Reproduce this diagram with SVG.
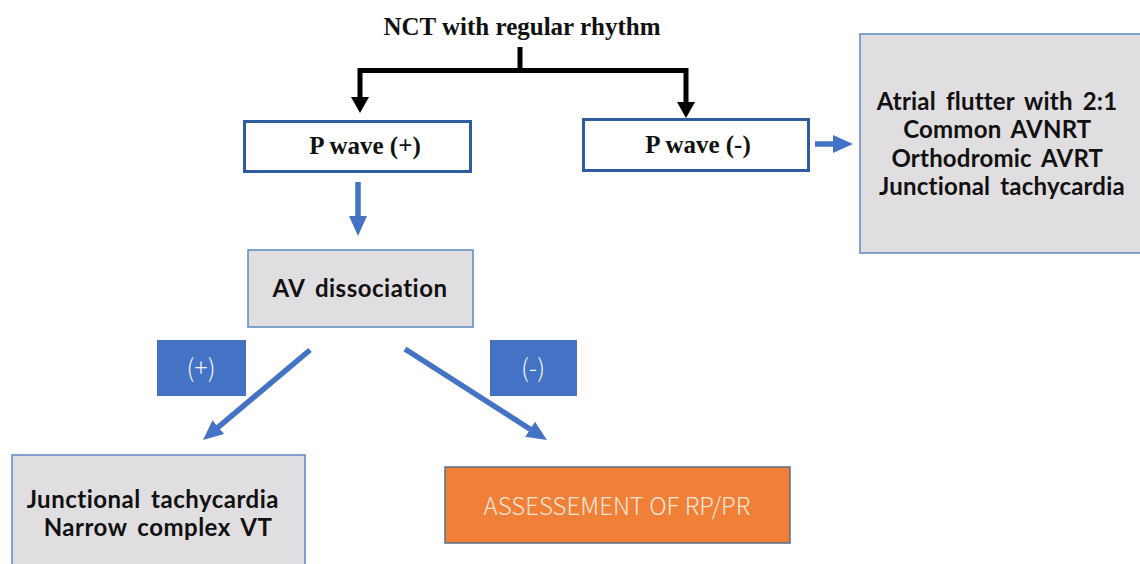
<svg xmlns="http://www.w3.org/2000/svg" width="1140" height="564" viewBox="0 0 1140 564">
  <style>
    .serif { font-family: "Liberation Serif", "Times New Roman", serif; font-weight: bold; fill: #111; }
    .sansb { font-family: Lato, "Noto Sans", sans-serif; font-weight: bold; fill: #111; font-size: 24px; letter-spacing: 0.5px; word-spacing: 4px; }
    .pbox { fill: #fff; stroke: #2F5C9F; stroke-width: 3; }
    .gbox { fill: #E0DEE0; stroke: #5B88C0; stroke-width: 1.5; }
    .lbox { fill: #4472C4; stroke: none; }
    .lbl { font-family: "Noto Sans CJK KR", "Noto Sans", sans-serif; font-size: 25px; font-weight: 300; fill: #EEF2FA; }
    .orange { fill: #F08038; stroke: #5A6E8C; stroke-width: 1.5; }
    .otext { font-family: "Noto Sans CJK KR", "Noto Sans", sans-serif; font-weight: 300; font-size: 24px; fill: #FBE6D8; }
    .black { stroke: #000; stroke-width: 5; fill: none; }
    .blue { stroke: #4472C4; stroke-width: 5.5; fill: none; }
  </style>
  <defs>
    <marker id="bhead" markerUnits="userSpaceOnUse" markerWidth="16" markerHeight="18" viewBox="0 0 16 18" refX="1" refY="9" orient="auto-start-reverse">
      <path d="M0,0 L16,9 L0,18 z" fill="#000"/>
    </marker>
    <marker id="uhead" markerUnits="userSpaceOnUse" markerWidth="20" markerHeight="18" viewBox="0 0 20 18" refX="2" refY="9" orient="auto">
      <path d="M0,0 L20,9 L0,18 z" fill="#4472C4"/>
    </marker>
  </defs>

  <g id="connectors">
    <path class="black" d="M520,47 V70.5"/>
    <path class="black" d="M360,98 V70.5 H686 V103" marker-start="url(#bhead)" marker-end="url(#bhead)"/>
    <path class="blue" d="M358,182 V218" marker-end="url(#uhead)"/>
    <path class="blue" d="M815,144 H835" marker-end="url(#uhead)"/>
    <path class="blue" d="M310,350 L216.8,428.4" marker-end="url(#uhead)"/>
    <path class="blue" d="M405,349 L531.8,430.3" marker-end="url(#uhead)"/>
  </g>

  <g id="title">
    <text class="serif" x="522" y="35" font-size="25" text-anchor="middle">NCT with regular rhythm</text>
  </g>

  <g id="pwave-pos">
    <rect class="pbox" x="244.5" y="121.5" width="226" height="50"/>
    <text class="serif" x="365" y="154" font-size="25" text-anchor="middle">P wave (+)</text>
  </g>

  <g id="pwave-neg">
    <rect class="pbox" x="583.5" y="119.5" width="225" height="51"/>
    <text class="serif" x="698" y="153" font-size="25" text-anchor="middle">P wave (-)</text>
  </g>

  <g id="neg-result">
    <rect class="gbox" x="860" y="34" width="290" height="219"/>
    <text class="sansb" text-anchor="middle" style="letter-spacing:0.2px">
      <tspan x="1002" y="110">Atrial flutter with 2:1</tspan>
      <tspan x="1002" y="138">Common AVNRT</tspan>
      <tspan x="1002" y="167">Orthodromic AVRT</tspan>
      <tspan x="1002" y="195">Junctional tachycardia</tspan>
    </text>
  </g>

  <g id="av-dissociation">
    <rect class="gbox" x="248" y="250" width="225" height="77"/>
    <text class="sansb" x="360" y="297" text-anchor="middle">AV dissociation</text>
  </g>

  <g id="label-pos">
    <rect class="lbox" x="157" y="340" width="89" height="56"/>
    <text class="lbl" x="201" y="377" text-anchor="middle">(+)</text>
  </g>

  <g id="label-neg">
    <rect class="lbox" x="490" y="340" width="87" height="56"/>
    <text class="lbl" x="533" y="377" text-anchor="middle">(-)</text>
  </g>

  <g id="pos-result">
    <rect class="gbox" x="12" y="455" width="293" height="120"/>
    <text class="sansb" text-anchor="middle">
      <tspan x="158" y="508">Junctional tachycardia</tspan>
      <tspan x="158" y="536">Narrow complex VT</tspan>
    </text>
  </g>

  <g id="assessment">
    <rect class="orange" x="445" y="467" width="345" height="76"/>
    <text class="otext" x="617" y="515" text-anchor="middle">ASSESSEMENT OF RP/PR</text>
  </g>
</svg>
